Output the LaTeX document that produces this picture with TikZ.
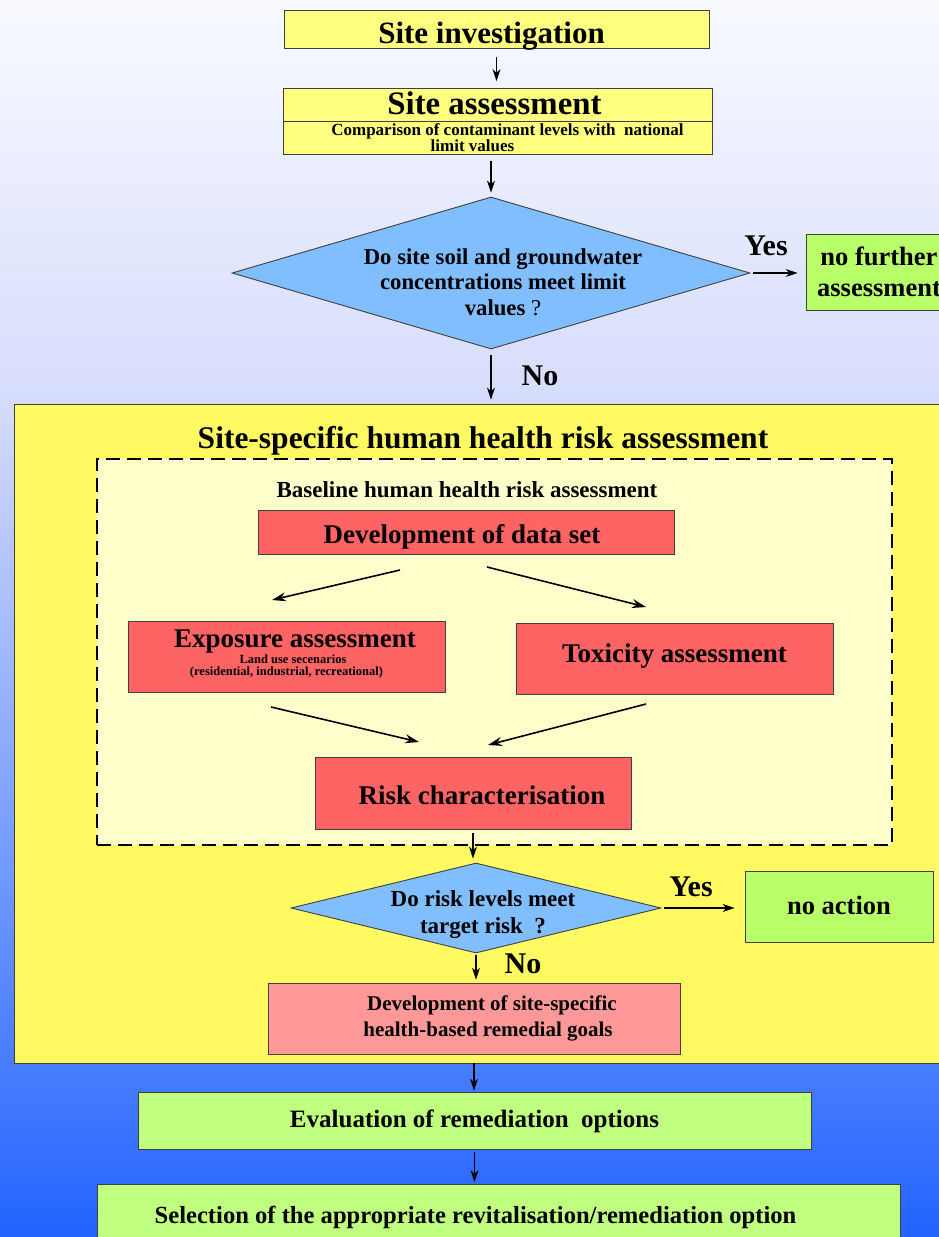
\documentclass[tikz,border=0pt]{standalone}
\usepackage{fontspec}
\setmainfont{Liberation Serif}
\usepackage{tikz}
\usetikzlibrary{arrows.meta,shapes.geometric}

\definecolor{bgtop}{RGB}{248,250,255}
\definecolor{bgmid}{RGB}{214,220,252}
\definecolor{bgbot}{RGB}{35,100,255}
\definecolor{paleyellow}{RGB}{255,255,128}
\definecolor{bigyellow}{RGB}{255,250,98}
\definecolor{creamy}{RGB}{255,255,204}
\definecolor{qblue}{RGB}{128,190,255}
\definecolor{riskred}{RGB}{255,100,100}
\definecolor{goalred}{RGB}{255,153,153}
\definecolor{okgreen}{RGB}{185,255,105}
\definecolor{optgreen}{RGB}{192,255,128}
\newcommand{\fsz}[2]{\fontsize{#1}{#2}\selectfont\bfseries}
\newcommand{\down}[2]{\raisebox{0pt}[#1pt][0pt]{#2}}

\begin{document}
\begin{tikzpicture}[x=1pt,y=-1pt,
  box/.style={draw=black!75,line width=0.9pt,inner sep=0pt,align=center},
  quest/.style={diamond,draw=black!75,line width=0.9pt,fill=qblue,inner sep=0pt},
  flow/.style={-{Stealth[length=12pt,width=8pt]},line width=1.2pt},
  slant/.style={-{Stealth[length=14pt,width=9pt]},line width=1.6pt}]
\useasboundingbox (0,0) rectangle (939,1237);
\shade[top color=bgtop,bottom color=bgmid] (0,0) rectangle (939,401);
\shade[top color=bgmid,bottom color=bgbot] (0,400) rectangle (939,1237);

% screening part
\node [box,fill=paleyellow,minimum width=425,minimum height=38,font=\fsz{31}{36}] (inv) at (496.5,29) {\down{28}{Site investigation}\hspace*{10pt}};
\node [box,fill=paleyellow,minimum width=429,minimum height=33,font=\fsz{32.8}{34}] (ass) at (497.5,105) {\down{18}{Site assessment}\hspace*{6pt}};
\node [box,fill=paleyellow,minimum width=429,minimum height=33,font=\fsz{17}{16}] (cmp) at (497.5,138) {\hspace*{20pt}Comparison of contaminant levels with~~national\\limit values\hspace*{50pt}};
\node [quest,minimum width=518,minimum height=152] (q1) at (491,273) {};
\node [align=center,font=\fsz{22.7}{25.5}] (q1txt) at (503,282) {Do site soil and groundwater\\concentrations meet limit\\values~\textmd{?}};
\node [box,fill=okgreen,minimum width=146,minimum height=76,font=\fsz{26.5}{31}] (nofur) at (879,272) {no further\\assessment};
\node [font=\fsz{30}{32}] (yes1) at (766,246) {Yes};
\node [font=\fsz{30}{32}] (no1) at (540,376) {No};

\draw [flow,shorten <=9pt,shorten >=7pt] (inv.south) -- (inv.south |- ass.north);
\draw [flow,shorten <=6pt,shorten >=4pt] (q1.north |- cmp.south) -- (q1.north);
\draw [flow,shorten <=3pt,shorten >=8pt] (q1.east) -- (q1.east -| nofur.west);

% site-specific part
\node [box,fill=bigyellow,minimum width=936,minimum height=659] (hhra) at (482,733.5) {};
\node [font=\fsz{31.5}{36}] (hhratitle) at (483,441) {Site-specific human health risk assessment};
\draw [flow,shorten <=6pt,shorten >=4pt] (q1.south) -- (q1.south |- hhra.north);
\node [draw,fill=creamy,dash pattern=on 14pt off 7pt,line width=2pt,minimum width=795,minimum height=386,inner sep=0pt] (base) at (494.5,652) {};
\node [font=\fsz{23}{26}] (basetitle) at (467,490) {Baseline human health risk assessment};
\node [box,fill=riskred,minimum width=416,minimum height=44,font=\fsz{27}{30}] (dev) at (466,532) {\down{22}{Development of data set}\hspace*{8pt}};
\node [box,fill=riskred,minimum width=317,minimum height=71] (expo) at (286.5,656.5) {\hspace*{17pt}\fsz{27}{30}Exposure assessment\\\hspace*{13pt}\fsz{12.5}{15}Land use secenarios\\\fsz{12.5}{15}(residential, industrial, recreational)\raisebox{-8pt}{}};
\node [box,fill=riskred,minimum width=317,minimum height=71,font=\fsz{27}{30}] (toxi) at (674.5,658.5) {\down{7}{Toxicity assessment}};
\node [box,fill=riskred,minimum width=316,minimum height=72,font=\fsz{27}{30}] (risk) at (473,793) {\hspace*{18pt}\down{22}{Risk characterisation}};

\coordinate (d1) at (400,570); \coordinate (d2) at (272,600);
\coordinate (d3) at (487,567); \coordinate (d4) at (646,607);
\coordinate (e1) at (271,707); \coordinate (e2) at (419,742);
\coordinate (t1) at (646,704); \coordinate (t2) at (488,745);
\draw [slant] (d1) -- (d2); \draw [slant] (d3) -- (d4);
\draw [slant] (e1) -- (e2); \draw [slant] (t1) -- (t2);

\node [quest,minimum width=370,minimum height=90] (q2) at (476,908) {};
\node [align=center,font=\fsz{23}{27}] (q2txt) at (483,915) {Do risk levels meet\\target risk~~?};
\node [box,fill=okgreen,minimum width=188,minimum height=71,font=\fsz{26.5}{30}] (noact) at (839,906.5) {\down{15}{no action}};
\node [font=\fsz{30}{32}] (yes2) at (691,887) {Yes};
\node [font=\fsz{30}{32}] (no2) at (523,964) {No};
\node [box,fill=goalred,minimum width=412,minimum height=71,font=\fsz{21}{26}] (goal) at (474,1018.5) {\hspace*{36pt}Development of site-specific\\\hspace*{28pt}health-based remedial goals};

\draw [flow,shorten <=4pt,shorten >=4pt] (risk.south) -- (risk.south |- q2.north);
\draw [flow,shorten <=3pt,shorten >=10pt] (q2.east) -- (q2.east -| noact.west);
\draw [flow,shorten <=2pt,shorten >=3pt] (q2.south) -- (q2.south |- goal.north);

% remediation part
\node [box,fill=optgreen,minimum width=673,minimum height=57,font=\fsz{25}{28}] (eval) at (474.5,1120.5) {\down{13}{Evaluation of remediation~~options}};
\node [box,fill=optgreen,minimum width=803,minimum height=75,font=\fsz{24.6}{28}] (sel) at (498.5,1222) {\down{2}{Selection of the appropriate revitalisation/remediation option}\hspace*{46pt}};

\draw [flow,shorten <=9pt,shorten >=1pt] (goal.south) -- (goal.south |- eval.north);
\draw [flow,shorten <=3pt,shorten >=2pt] (eval.south) -- (eval.south |- sel.north);
\end{tikzpicture}
\end{document}
